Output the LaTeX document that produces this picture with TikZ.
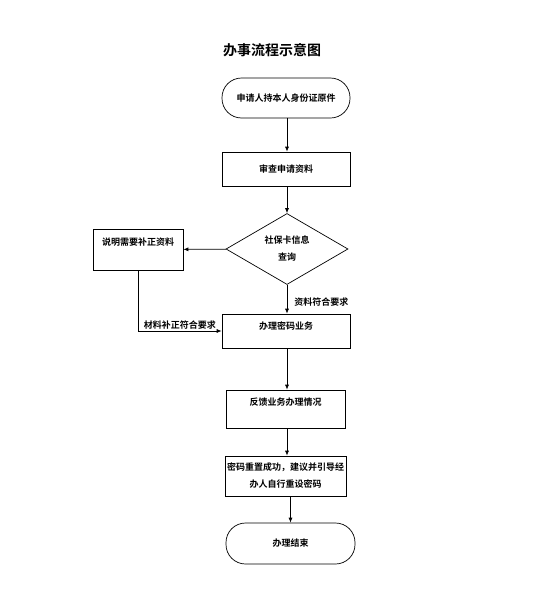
\documentclass[tikz,border=0pt]{standalone}
\usepackage{fontspec}
\setmainfont{Noto Sans CJK SC}[BoldFont={Noto Sans CJK SC Bold}]
\usetikzlibrary{shapes.geometric,arrows.meta}
\tikzset{
  box/.style={draw, line width=0.7pt, align=center, font=\bfseries\fontsize{9}{17}\selectfont, inner sep=2pt},
  termbox/.style={box, rounded corners=19.5pt},
  decbox/.style={box, diamond, aspect=1.72, inner sep=0pt},
  upper/.style={text height=6pt, text depth=14pt},
  flow/.style={-{Latex[length=5pt,width=4pt]}, line width=0.7pt},
  note/.style={font=\bfseries\fontsize{9}{11}\selectfont, inner sep=1pt}
}
\begin{document}
\begin{tikzpicture}[x=1pt,y=-1pt]
\useasboundingbox (0,0) rectangle (558,600);
\node[font=\bfseries\fontsize{14}{16}\selectfont] (title) at (272,50) {办事流程示意图};

\node[termbox, minimum width=128pt, minimum height=40pt] (start) at (286,98) {申请人持本人身份证原件};
\node[box, minimum width=128pt, minimum height=34pt] (check) at (286,169) {审查申请资料};
\node[decbox, minimum width=122pt, minimum height=71pt] (query) at (287,249) {社保卡信息\\查询};
\node[box, upper, minimum width=90pt, minimum height=41pt] (supply) at (138,249.5) {说明需要补正资料};
\node[box, minimum width=128pt, minimum height=34pt, text height=6pt, text depth=10pt] (handle) at (286,331) {办理密码业务};
\node[box, upper, minimum width=119pt, minimum height=38pt] (feedback) at (285.5,409) {反馈业务办理情况};
\node[box, minimum width=119pt, minimum height=40pt] (reset) at (285.5,476) {密码重置成功，建议并引导经\\办人自行重设密码};
\node[termbox, minimum width=129pt, minimum height=41pt] (finish) at (290.5,543.5) {办理结束};

\draw[flow] (start.south -| query) -- (check.north -| query);
\draw[flow] (check.south -| query) -- (query.north);
\draw[flow] (query) -- (supply);
\draw[flow] (query) -- node[note, right, xshift=6pt, yshift=-3pt] (okmsg) {资料符合要求} (handle.north -| query);
\draw[flow] (supply) |- node[note, pos=0.75, above] (fixmsg) {材料补正符合要求} (handle);
\draw[flow] (handle.south -| query) -- (feedback.north -| query);
\draw[flow] (feedback.south -| query) -- (reset.north -| query);
\draw[flow] (reset.south -| finish) -- (finish.north);
\end{tikzpicture}
\end{document}
